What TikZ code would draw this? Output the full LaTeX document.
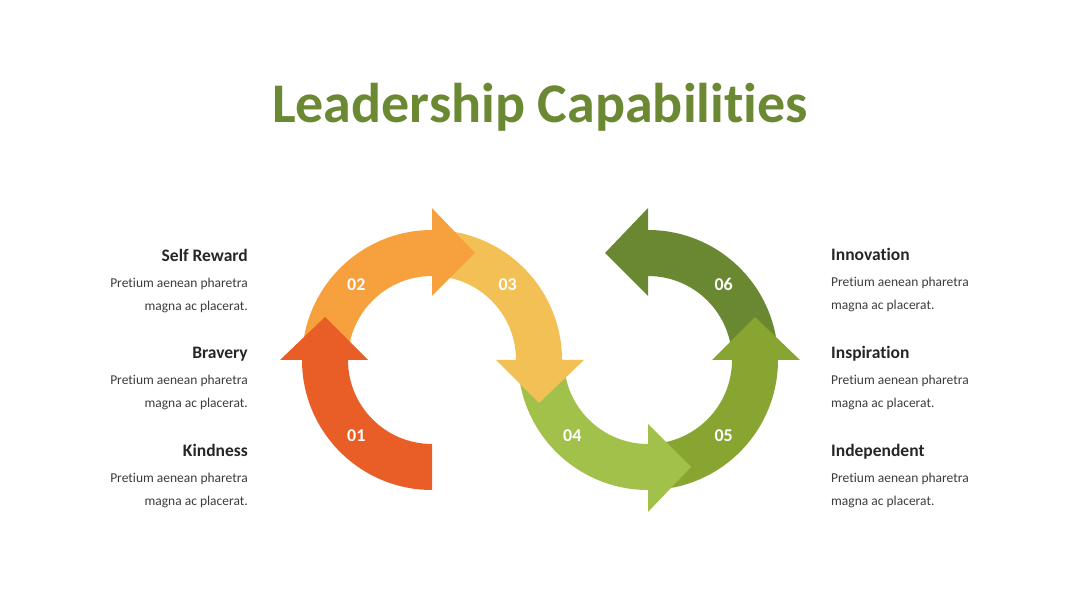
\documentclass[tikz,border=0pt]{standalone}
\usepackage{fontspec}
\setmainfont[Ligatures=NoCommon]{Carlito}
\usetikzlibrary{calc}

\definecolor{segone}{RGB}{233,94,39}
\definecolor{segtwo}{RGB}{247,161,62}
\definecolor{segthree}{RGB}{243,192,85}
\definecolor{segfour}{RGB}{162,193,74}
\definecolor{segfive}{RGB}{136,165,49}
\definecolor{segsix}{RGB}{106,135,50}
\definecolor{titlegreen}{RGB}{107,137,51}
\definecolor{headgray}{RGB}{38,38,38}
\definecolor{bodygray}{RGB}{60,60,60}

\begin{document}
\begin{tikzpicture}[x=1pt, y=1pt,
  title/.style={text=titlegreen, font=\bfseries\fontsize{56}{60}\selectfont, inner sep=0pt},
  num/.style={text=white, font=\bfseries\fontsize{18}{18}\selectfont, inner sep=0pt},
  head/.style={text=headgray, font=\bfseries\fontsize{17.5}{20}\selectfont, inner sep=0pt},
  body/.style={text=bodygray, font=\fontsize{13.5}{16}\selectfont, inner sep=0pt}]

\useasboundingbox (0,0) rectangle (1080,608);

% Title
\node[title, anchor=base] (title) at (540,485) {Leadership Capabilities};

% Centres
\coordinate (C1) at (432,248);
\coordinate (C2) at (648,248);

% Arrows (last one on top)
\foreach \c/\a/\b/\t/\col in {C2/0/90/180/segsix, C2/270/360/90/segfive,
    C2/180/270/0/segfour, C1/90/0/270/segthree, C1/180/90/0/segtwo, C1/270/180/90/segone}
  \fill[\col] ($(\c)+(\a:130)$) arc[start angle=\a, end angle=\b, radius=130]
    -- ($(\c)+(\b:152)$) -- ($(\c)+(\b:107)+(\t:43)$)
    -- ($(\c)+(\b:64)$) -- ($(\c)+(\b:84)$)
    arc[start angle=\b, end angle=\a, radius=84] -- cycle;

% Numbers
\node[num] (n1) at ($(C1)+(225:107)$) {01};
\node[num] (n2) at ($(C1)+(135:107)$) {02};
\node[num] (n3) at ($(C1)+(45:107)$) {03};
\node[num] (n4) at ($(C2)+(225:107)$) {04};
\node[num] (n5) at ($(C2)+(315:107)$) {05};
\node[num] (n6) at ($(C2)+(45:107)$) {06};

% Left texts
\foreach \n/\y/\txt in {reward/346/Self Reward, bravery/249/Bravery, kind/151/Kindness} {
  \node[head, anchor=base east] (\n) at (248,\y) {\txt};
  \node[body, anchor=base east] (\n-a) at (248,\y-26) {Pretium aenean pharetra};
  \node[body, anchor=base east] (\n-b) at (248,\y-49) {magna ac placerat.};
}

% Right texts
\foreach \n/\y/\txt in {innov/347/Innovation, inspir/249/Inspiration, indep/151/Independent} {
  \node[head, anchor=base west] (\n) at (831,\y) {\txt};
  \node[body, anchor=base west] (\n-a) at (831,\y-26) {Pretium aenean pharetra};
  \node[body, anchor=base west] (\n-b) at (831,\y-49) {magna ac placerat.};
}

\end{tikzpicture}
\end{document}
